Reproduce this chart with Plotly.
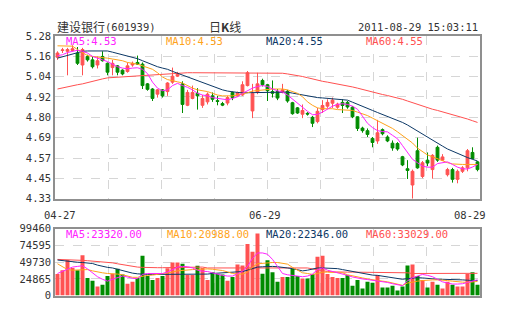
import plotly.graph_objects as go

W, H = 505, 330

# ---------------- data ----------------
date_labels = ["04-27", "06-29", "08-29"]
price_ticks = ["4.33", "4.45", "4.57", "4.69", "4.80", "4.92", "5.04", "5.16", "5.28"]
vol_ticks = ["0", "24865", "49730", "74595", "99460"]

open_ = [5.155, 5.195, 5.19, 5.195, 5.18, 5.11, 5.16, 5.14, 5.11, 5.16,
         5.12, 5.095, 5.105, 5.08, 5.072, 5.11, 5.125, 5.115, 5.0, 4.97,
         4.94, 4.965, 4.955, 5.01, 5.045, 5.0, 4.875, 4.915, 4.945, 4.875,
         4.895, 4.93, 4.902, 4.885, 4.888, 4.95, 4.93, 4.935, 4.99, 4.842,
         4.95, 5.02, 4.995, 4.955, 4.955, 4.95, 4.957, 4.89, 4.86, 4.823,
         4.828, 4.805, 4.78, 4.85, 4.87, 4.887, 4.864, 4.892, 4.892, 4.864,
         4.808, 4.742, 4.727, 4.682, 4.667, 4.733, 4.69, 4.654, 4.652, 4.575,
         4.505, 4.41, 4.61, 4.46, 4.555, 4.50, 4.63, 4.555, 4.47, 4.50,
         4.443, 4.49, 4.51, 4.60, 4.545]
high = [5.19, 5.21, 5.21, 5.225, 5.215, 5.21, 5.17, 5.16, 5.16, 5.19,
        5.125, 5.14, 5.11, 5.085, 5.125, 5.13, 5.165, 5.125, 5.005, 4.975,
        4.97, 4.97, 5.01, 5.095, 5.07, 5.015, 4.965, 4.99, 4.975, 4.935,
        4.95, 4.95, 4.93, 4.895, 4.93, 4.955, 4.955, 5.015, 5.075, 5.0,
        5.065, 5.03, 5.0, 5.02, 4.97, 5.0, 4.965, 4.895, 4.865, 4.88,
        4.835, 4.813, 4.86, 4.905, 4.91, 4.92, 4.89, 4.91, 4.90, 4.87,
        4.81, 4.75, 4.74, 4.69, 4.79, 4.74, 4.70, 4.67, 4.66, 4.58,
        4.555, 4.50, 4.686, 4.55, 4.60, 4.59, 4.64, 4.59, 4.51, 4.51,
        4.50, 4.52, 4.62, 4.63, 4.55]
low = [5.14, 5.18, 5.05, 5.19, 5.11, 5.05, 5.13, 5.09, 5.09, 5.13,
       5.05, 5.05, 5.05, 5.05, 5.065, 5.10, 5.11, 4.97, 4.96, 4.90,
       4.92, 4.92, 4.93, 5.0, 5.04, 4.83, 4.87, 4.91, 4.85, 4.86,
       4.88, 4.895, 4.875, 4.87, 4.875, 4.905, 4.925, 4.93, 4.985, 4.80,
       4.94, 4.985, 4.90, 4.92, 4.905, 4.945, 4.89, 4.82, 4.825, 4.80,
       4.815, 4.748, 4.77, 4.83, 4.86, 4.86, 4.855, 4.83, 4.855, 4.80,
       4.725, 4.715, 4.69, 4.63, 4.65, 4.70, 4.66, 4.61, 4.61, 4.52,
       4.445, 4.33, 4.505, 4.45, 4.52, 4.447, 4.545, 4.55, 4.46, 4.424,
       4.42, 4.48, 4.49, 4.56, 4.49]
close = [5.18, 5.198, 5.20, 5.205, 5.12, 5.20, 5.14, 5.10, 5.135, 5.135,
         5.068, 5.12, 5.068, 5.058, 5.105, 5.12, 5.115, 4.99, 4.968, 4.915,
         4.965, 4.93, 5.005, 5.045, 5.056, 4.88, 4.95, 4.95, 4.93, 4.915,
         4.94, 4.91, 4.898, 4.876, 4.92, 4.92, 4.948, 4.995, 5.065, 4.945,
         5.0, 4.995, 4.96, 4.945, 4.917, 4.965, 4.90, 4.826, 4.83, 4.845,
         4.824, 4.77, 4.84, 4.874, 4.892, 4.905, 4.882, 4.874, 4.865, 4.808,
         4.74, 4.727, 4.705, 4.658, 4.715, 4.709, 4.667, 4.626, 4.62, 4.527,
         4.495, 4.49, 4.51, 4.54, 4.538, 4.583, 4.555, 4.574, 4.50, 4.443,
         4.49, 4.51, 4.61, 4.565, 4.50]

ma5 = [5.164, 5.17, 5.183, 5.19, 5.196, 5.19, 5.18, 5.16, 5.152, 5.14,
       5.13, 5.117, 5.10, 5.092, 5.088, 5.092, 5.094, 5.085, 5.06, 5.01,
       4.975, 4.96, 4.965, 4.99, 5.003, 4.99, 4.98, 4.965, 4.945, 4.935,
       4.93, 4.92, 4.915, 4.91, 4.907, 4.915, 4.925, 4.945, 4.96, 4.975,
       4.985, 4.99, 4.985, 4.97, 4.96, 4.952, 4.935, 4.91, 4.885, 4.865,
       4.84, 4.82, 4.822, 4.835, 4.855, 4.87, 4.88, 4.884, 4.88, 4.87,
       4.852, 4.81, 4.77, 4.745, 4.727, 4.722, 4.72, 4.70, 4.68, 4.64,
       4.60, 4.56, 4.54, 4.52, 4.514, 4.514, 4.535, 4.542, 4.545, 4.53,
       4.514, 4.505, 4.503, 4.515, 4.53]
ma10 = [5.222, 5.222, 5.222, 5.22, 5.20, 5.18, 5.165, 5.16, 5.158, 5.154,
        5.15, 5.145, 5.14, 5.135, 5.125, 5.12, 5.115, 5.105, 5.095, 5.085,
        5.065, 5.04, 5.025, 5.02, 5.012, 5.005, 4.99, 4.975, 4.965, 4.962,
        4.955, 4.945, 4.935, 4.93, 4.928, 4.93, 4.935, 4.94, 4.948, 4.958,
        4.962, 4.965, 4.97, 4.97, 4.97, 4.97, 4.965, 4.955, 4.945, 4.925,
        4.895, 4.875, 4.86, 4.855, 4.855, 4.855, 4.85, 4.848, 4.846, 4.845,
        4.835, 4.826, 4.815, 4.80, 4.785, 4.772, 4.758, 4.74, 4.72, 4.70,
        4.68, 4.655, 4.625, 4.605, 4.585, 4.575, 4.562, 4.55, 4.54, 4.533,
        4.53, 4.53, 4.53, 4.53, 4.53]
ma20 = [5.15, 5.158, 5.165, 5.175, 5.185, 5.19, 5.192, 5.192, 5.192, 5.192,
        5.192, 5.185, 5.178, 5.172, 5.165, 5.157, 5.147, 5.135, 5.123, 5.11,
        5.10, 5.092, 5.085, 5.073, 5.062, 5.05, 5.04, 5.03, 5.017, 5.005,
        4.995, 4.985, 4.975, 4.965, 4.958, 4.952, 4.95, 4.948, 4.948, 4.948,
        4.948, 4.948, 4.949, 4.95, 4.95, 4.951, 4.952, 4.946, 4.94, 4.935,
        4.93, 4.925, 4.92, 4.918, 4.916, 4.914, 4.912, 4.908, 4.905, 4.893,
        4.88, 4.868, 4.857, 4.845, 4.833, 4.822, 4.81, 4.80, 4.79, 4.775,
        4.76, 4.742, 4.725, 4.705, 4.686, 4.67, 4.655, 4.637, 4.62, 4.607,
        4.595, 4.582, 4.57, 4.56, 4.55]
ma60 = [4.97, 4.977, 4.984, 4.99, 4.995, 5.00, 5.008, 5.015, 5.022, 5.029,
        5.035, 5.037, 5.039, 5.041, 5.043, 5.045, 5.046, 5.047, 5.05, 5.053,
        5.056, 5.058, 5.06, 5.062, 5.064, 5.065, 5.065, 5.065, 5.065, 5.065,
        5.065, 5.065, 5.065, 5.065, 5.065, 5.065, 5.065, 5.065, 5.066, 5.066,
        5.066, 5.065, 5.065, 5.065, 5.064, 5.062, 5.058, 5.054, 5.05, 5.043,
        5.036, 5.028, 5.02, 5.015, 5.01, 5.005, 5.0, 4.994, 4.988, 4.982,
        4.975, 4.967, 4.958, 4.95, 4.944, 4.938, 4.932, 4.926, 4.92, 4.91,
        4.90, 4.89, 4.88, 4.87, 4.86, 4.852, 4.845, 4.837, 4.83, 4.822,
        4.815, 4.805, 4.795, 4.785, 4.775]

volume = [32000, 37600, 52900, 40900, 37600, 60000, 26200, 21900, 13300, 16100,
          29000, 32300, 40000, 31400, 17600, 20400, 26200, 59000, 29000, 23300,
          26200, 29000, 40400, 49000, 49000, 47200, 30400, 30400, 44300, 40900,
          23300, 34700, 31900, 31400, 21900, 27600, 46200, 44700, 76600, 65200,
          92300, 32300, 52300, 34700, 20400, 27600, 27600, 39400, 29000, 25200,
          25200, 31900, 57600, 59000, 31900, 27600, 26200, 26200, 30400, 14700,
          23300, 10400, 20400, 19000, 30400, 11900, 11900, 14700, 7600, 13300,
          44700, 46200, 29000, 23300, 11900, 20400, 16100, 10400, 20400, 16100,
          13300, 13300, 31900, 34700, 16100]
vma5 = [32800, 36200, 40000, 42300, 43300, 44300, 39600, 33800, 28000, 24200,
        21400, 24200, 27100, 29000, 27600, 25700, 25200, 31400, 32800, 32800,
        32800, 32800, 34800, 38600, 42300, 43300, 42800, 41100, 37700, 36200,
        35700, 33800, 31400, 30000, 29000, 29000, 32300, 36200, 43300, 55200,
        63300, 63300, 61400, 53700, 43300, 32800, 30900, 30000, 29000, 28000,
        29000, 31900, 38600, 41100, 37700, 35700, 34800, 32800, 30000, 27600,
        25700, 24700, 23800, 22800, 21400, 20400, 19500, 17600, 15700, 14700,
        21900, 26600, 29000, 31400, 30000, 28000, 24200, 20400, 18600, 17100,
        17100, 17600, 19500, 20900, 23320]
vma10 = [47200, 42300, 38600, 37700, 38100, 38600, 38600, 36700, 34800, 33800,
         32800, 32800, 31900, 30900, 29000, 27100, 27100, 29000, 30000, 30400,
         31400, 31900, 32800, 34800, 36700, 37700, 38100, 38600, 39100, 39600,
         39600, 39100, 38600, 37200, 35200, 32800, 31900, 31900, 34800, 42300,
         47200, 48100, 49100, 49100, 49100, 48100, 46700, 41900, 37200, 33800,
         32800, 31400, 32800, 34800, 34800, 34800, 34800, 33800, 30900, 29000,
         27600, 26200, 24700, 23300, 22300, 21400, 20400, 19000, 17100, 15200,
         18600, 20400, 21400, 22300, 23300, 23300, 23300, 23300, 22300, 21400,
         20400, 20000, 19500, 20000, 20988]
vma20 = [52800, 51800, 50900, 49900, 49500, 49100, 48600, 47600, 45200, 43300,
         41900, 41000, 39100, 37200, 34800, 33300, 32300, 31400, 31400, 31400,
         31400, 31400, 31400, 31400, 31400, 31400, 31400, 31400, 31400, 31400,
         31900, 32800, 33300, 33800, 33800, 33800, 34800, 35700, 37700, 40500,
         42300, 42800, 43300, 43300, 42800, 42300, 41000, 40000, 38600, 36700,
         37700, 39600, 41000, 41000, 41000, 41000, 40000, 38600, 37200, 35700,
         33800, 32800, 31400, 30400, 30000, 29000, 28000, 27100, 25700, 24200,
         25200, 26200, 26600, 26200, 25200, 24200, 24200, 24200, 24200, 23800,
         23800, 23300, 22800, 22800, 22346]
vma60 = [53700, 53200, 52800, 52800, 52800, 52300, 51800, 51300, 50900, 50400,
         49500, 48600, 47200, 45700, 44300, 43300, 42300, 41900, 41400, 41400,
         41400, 41400, 41400, 42300, 42300, 42300, 42300, 42300, 42300, 42300,
         41000, 41000, 41000, 41000, 41000, 41000, 41000, 41000, 41000, 41000,
         41000, 41000, 41000, 41000, 41000, 41000, 41000, 41000, 41000, 41000,
         41000, 39600, 38100, 36700, 35700, 35200, 34800, 34800, 34800, 34800,
         34800, 34800, 34800, 33800, 33800, 33800, 33800, 33800, 33800, 33800,
         33800, 32800, 32800, 32800, 32800, 32800, 32800, 32800, 32800, 33029,
         33029, 33029, 33029, 33029, 33029]

# ---------------- styling ----------------
RED = "#ff5252"
GREEN = "#008c00"
C_MA5 = "#ff22ff"
C_MA10 = "#ffa31a"
C_MA20 = "#0c3866"
C_MA60 = "#ff5050"
GRID = "#d6d6d6"
FRAME = "#8f8f8f"
TXT = "#333333"
MONO = "DejaVu Sans Mono"
CJK = "Noto Sans CJK SC"

n = len(close)
idx = list(range(n))

def px_x(x):
    return x / W

def px_y(y):
    return 1 - y / H

x_dom = [px_x(55), px_x(480)]
p_dom = [px_y(200), px_y(31)]
v_dom = [px_y(300.5), px_y(231)]

xgrid = [-0.5 + (n / 8.0) * k for k in range(1, 8)]
pmin, pmax = 4.33, 5.28
pgrid = [pmin + (pmax - pmin) / 8.0 * k for k in range(9)]
vmax = 99460
vgrid = [vmax / 4.0 * k for k in range(5)]

fig = go.Figure()

fig.add_trace(go.Candlestick(
    x=idx, open=open_, high=high, low=low, close=close,
    increasing=dict(line=dict(color=RED, width=1), fillcolor=RED),
    decreasing=dict(line=dict(color=GREEN, width=1), fillcolor=GREEN),
    whiskerwidth=0, xaxis="x", yaxis="y", showlegend=False, hoverinfo="skip"))

for vals, col in [(ma60, C_MA60), (ma20, C_MA20), (ma10, C_MA10), (ma5, C_MA5)]:
    fig.add_trace(go.Scatter(x=idx, y=vals, mode="lines",
                             line=dict(color=col, width=1),
                             xaxis="x", yaxis="y", showlegend=False, hoverinfo="skip"))

bar_colors = [RED if c >= o else GREEN for o, c in zip(open_, close)]
fig.add_trace(go.Bar(x=idx, y=volume, marker=dict(color=bar_colors, line=dict(width=0)),
                     width=0.8, xaxis="x2", yaxis="y2", showlegend=False, hoverinfo="skip"))

for vals, col in [(vma60, C_MA60), (vma20, C_MA20), (vma10, C_MA10), (vma5, C_MA5)]:
    fig.add_trace(go.Scatter(x=idx, y=vals, mode="lines",
                             line=dict(color=col, width=1),
                             xaxis="x2", yaxis="y2", showlegend=False, hoverinfo="skip"))

xcommon = dict(domain=x_dom, range=[-0.5, n - 0.5], tickmode="array", tickvals=xgrid,
               showticklabels=False, ticks="", showgrid=True, gridcolor=GRID,
               griddash="dash", gridwidth=1, zeroline=False, showline=True,
               mirror=True, linecolor=FRAME, linewidth=1.5, fixedrange=True)
ycommon = dict(tickmode="array", ticks="", showgrid=True, gridcolor=GRID, griddash="dash",
               gridwidth=1, zeroline=False, showline=True, mirror=True, linecolor=FRAME,
               linewidth=1.5, tickfont=dict(family=MONO, size=10.5, color=TXT),
               fixedrange=True)

fig.update_layout(
    width=W, height=H, autosize=False,
    margin=dict(l=0, r=0, t=0, b=0),
    paper_bgcolor="white", plot_bgcolor="white",
    boxgap=0.2,
    xaxis=dict(anchor="y", rangeslider=dict(visible=False), **xcommon),
    xaxis2=dict(anchor="y2", **xcommon),
    yaxis=dict(domain=p_dom, range=[pmin, pmax], tickvals=pgrid, ticktext=price_ticks,
               anchor="x", **ycommon),
    yaxis2=dict(domain=v_dom, range=[0, vmax], tickvals=vgrid, ticktext=vol_ticks,
                anchor="x2", **ycommon),
)

ann = []

def add_text(text, x, y, anchor="left", size=10.5, color=TXT, family=MONO):
    ann.append(dict(text=text, x=px_x(x), y=px_y(y), xref="paper", yref="paper",
                    xanchor=anchor, yanchor="middle", showarrow=False,
                    font=dict(family=family, size=size, color=color)))

# header
add_text("建设银行", 55, 21.5, size=12, family=CJK)
add_text("(601939)", 103, 21.5)
add_text("日<b>K</b>线", 224.5, 21.5, anchor="center", size=12, family=CJK)
add_text("2011-08-29 15:03:11", 480, 21.5, anchor="right")

# price legend
add_text("MA5:4.53", 64, 36.7, color=C_MA5)
add_text("MA10:4.53", 163.5, 36.7, color=C_MA10)
add_text("MA20:4.55", 264, 36.7, color=C_MA20)
add_text("MA60:4.55", 364, 36.7, color=C_MA60)

# volume legend
add_text("MA5:23320.00", 64, 236.7, color=C_MA5)
add_text("MA10:20988.00", 164.5, 236.7, color=C_MA10)
add_text("MA20:22346.00", 264, 236.7, color=C_MA20)
add_text("MA60:33029.00", 364, 236.7, color=C_MA60)

# date labels
add_text(date_labels[0], 59.5, 216.5, anchor="center")
add_text(date_labels[1], 264.7, 216.5, anchor="center")
add_text(date_labels[2], 469.7, 216.5, anchor="center")

fig.update_layout(annotations=ann)

fig.write_html("out.html")
